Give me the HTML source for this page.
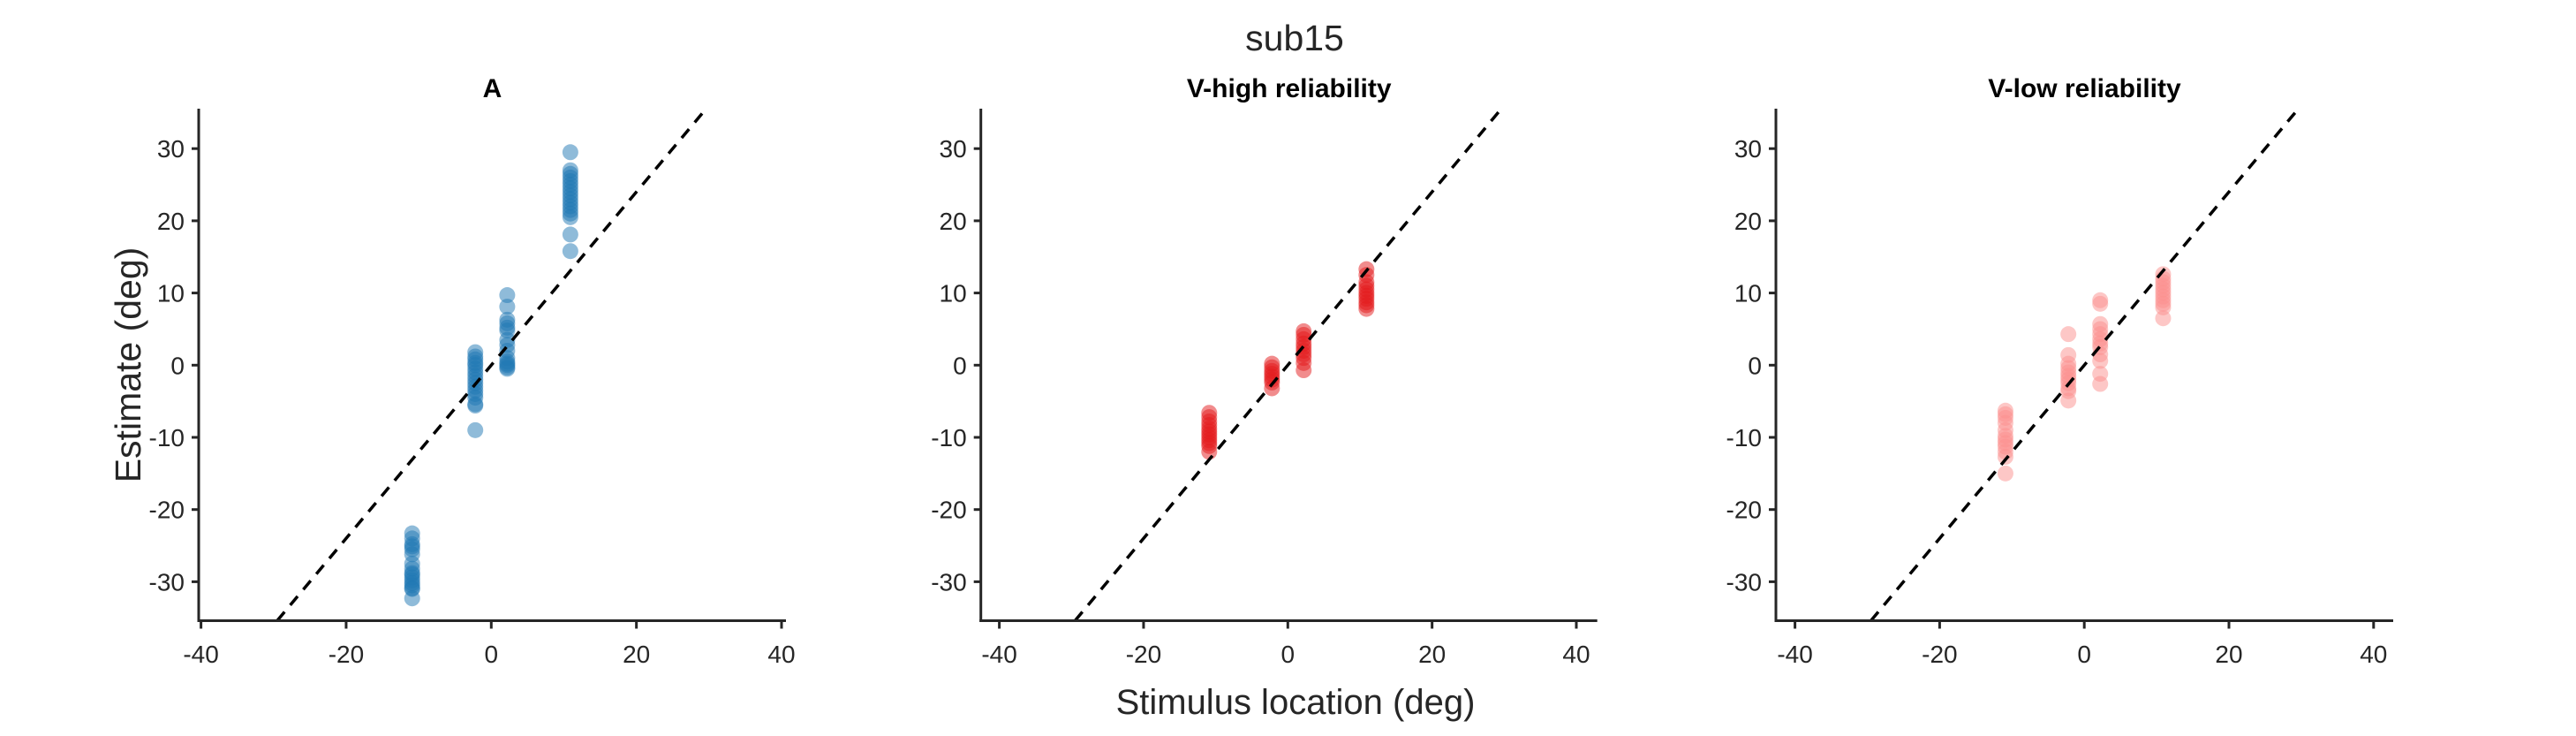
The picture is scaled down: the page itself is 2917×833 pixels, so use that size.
<!DOCTYPE html>
<html><head><meta charset="utf-8"><style>
html,body{margin:0;padding:0;background:#fff;}
svg{display:block;font-family:"Liberation Sans",Arial,sans-serif;}
</style></head><body>
<svg id="fig" width="2917" height="833" viewBox="0 0 2917 833">
<text x="1466" y="57" font-size="41" text-anchor="middle" fill="#262626">sub15</text>
<text x="1467" y="808" font-size="40" text-anchor="middle" fill="#262626">Stimulus location (deg)</text>
<text transform="translate(159,413) rotate(-90)" font-size="41" text-anchor="middle" fill="#262626">Estimate (deg)</text>
</svg>
<script>
const stimLocs = [-10.9, -2.2, 2.2, 10.9];
const xTicks = [-40, -20, 0, 20, 40];
const yTicks = [-30, -20, -10, 0, 10, 20, 30];
const panelTitles = ["A", "V-high reliability", "V-low reliability"];
const panelColors = ["#1f77b4", "#e41a1c", "#fb8f8e"];
const identitySlope = 1.2;
const lineXRange = [-29.5, 29.5];
// Panel A estimates per stimulus
const aEst0 = [-23.3,-24,-24.8,-25.1,-25.5,-26.2,-27.5,-28.2,-28.8,-29,-29.4,-29.8,-30.2,-30.5,-30.9,-31,-32.3];
const aEst1 = [1.8,1.2,0.8,0.3,0,-0.5,-1,-1.5,-2,-2.5,-3,-3.5,-4,-4.5,-5.4,-5.6,-9];
const aEst2 = [9.7,8.1,6.3,5.8,5.2,4.8,3.5,2.8,2,1,0.5,0.2,0,-0.3,-0.5];
const aEst3 = [29.5,27,26.5,26,25.5,25,24.5,24,23.5,23,22.5,22,21.5,21,20.5,18.1,15.8];
// Panel V-high
const hEst0 = [-6.6,-7.2,-7.8,-8.3,-8.8,-9.2,-9.6,-10,-10.4,-10.8,-11.2,-12];
const hEst1 = [0.2,-0.3,-0.8,-1.2,-1.6,-2,-2.4,-3.2];
const hEst2 = [4.7,4.2,3.6,3,2.5,2,1.5,1,0.3,-0.7];
const hEst3 = [13.3,12.5,11.5,11,10.5,10,9.6,9.2,8.7,8.3,7.8];
// Panel V-low
const lEst0 = [-6.3,-6.8,-7.3,-8,-9,-9.8,-10.3,-10.8,-11.3,-12,-12.7,-15];
const lEst1 = [4.3,1.4,0.2,-0.4,-1,-1.5,-2,-2.5,-3.2,-3.6,-4.9];
const lEst2 = [9,8.5,5.7,5,4.3,3.6,3,2.5,1.5,0.6,-1.2,-2.6];
const lEst3 = [12.6,12,11.5,11,10.5,10,9.5,9,8.5,8,6.5];

const panels = [
  {left:225, right:890, x0:227.6, x1:885, est:[aEst0,aEst1,aEst2,aEst3]},
  {left:1110.7, right:1808.7, x0:1131.6, x1:1785, est:[hEst0,hEst1,hEst2,hEst3]},
  {left:2011, right:2710, x0:2032.6, x1:2687.8, est:[lEst0,lEst1,lEst2,lEst3]}
];
const NS = "http://www.w3.org/2000/svg";
const svg = document.getElementById("fig");
function mk(tag, attrs, parent){const e=document.createElementNS(NS,tag);for(const k in attrs)e.setAttribute(k,attrs[k]);(parent||svg).appendChild(e);return e;}
const yScale = v => 413.3 - 8.17*v;
const axisY = 702.5, axisTop = 123;

panels.forEach((p, i) => {
  const xScale = v => p.x0 + (v + 40) * (p.x1 - p.x0) / 80;
  const g = mk("g", {});
  
  
  const title = mk("text", {x:(p.left+p.right)/2, y:110, "font-size":30, "font-weight":"bold", "text-anchor":"middle", fill:"#000"}, g);
  title.textContent = panelTitles[i];
  
  
  // points
  p.est.forEach((arr, si) => {
    arr.forEach(v => {
      const c = mk("circle", {cx:xScale(stimLocs[si]), cy:yScale(v), r:9, fill:panelColors[i], "fill-opacity":0.5}, g);
      
      
    });
  });
  // dashed line
  const ln = mk("line", {x1:xScale(lineXRange[0]), y1:yScale(lineXRange[0]*identitySlope), x2:xScale(lineXRange[1]), y2:yScale(lineXRange[1]*identitySlope), stroke:"#000", "stroke-width":3.5, "stroke-dasharray":"13 10"}, g);
  
  
  // axes
  const ya = mk("line", {x1:p.left, y1:axisTop, x2:p.left, y2:axisY+1.5, stroke:"#262626", "stroke-width":3}, g);
  
  
  const xa = mk("line", {x1:p.left-1.5, y1:axisY, x2:p.right, y2:axisY, stroke:"#262626", "stroke-width":3}, g);
  
  
  yTicks.forEach(t => {
    const y = yScale(t);
    const tk = mk("line", {x1:p.left-8, y1:y, x2:p.left, y2:y, stroke:"#262626", "stroke-width":3}, g);
    
    
    const tl = mk("text", {x:p.left-16, y:y+10, "font-size":28, "text-anchor":"end", fill:"#262626"}, g);
    tl.textContent = t;
    
    
  });
  xTicks.forEach(t => {
    const x = xScale(t);
    const tk = mk("line", {x1:x, y1:axisY, x2:x, y2:axisY+9, stroke:"#262626", "stroke-width":3}, g);
    
    
    const tl = mk("text", {x:x, y:750, "font-size":28, "text-anchor":"middle", fill:"#262626"}, g);
    tl.textContent = t;
    
    
  });
});
</script>
</body></html>
